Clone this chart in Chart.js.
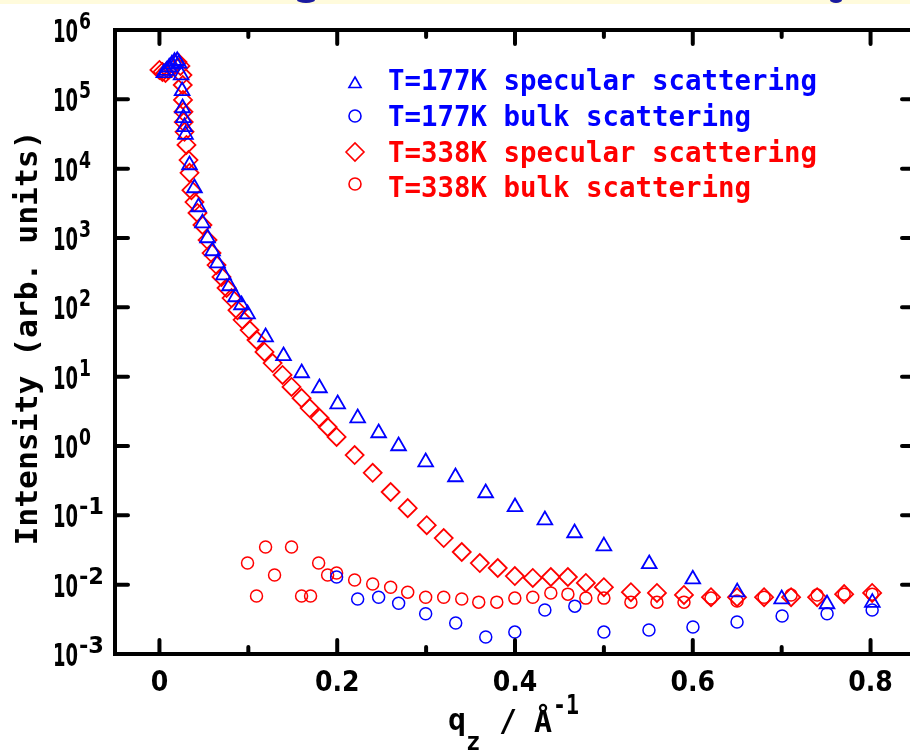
<!DOCTYPE html>
<html>
<head>
<meta charset="utf-8">
<script src="https://cdn.jsdelivr.net/npm/chart.js@4.4.1/dist/chart.umd.min.js"></script>
<style>
  html, body { margin: 0; padding: 0; background: #fff; overflow: hidden; width: 910px; height: 754px; }
  canvas { display: block; }
</style>
</head>
<body>
<canvas id="c" width="928" height="754" style="width:928px;height:754px"></canvas>
<script>
// ---- data ----
const LABELS = [
  'T=177K specular scattering',
  'T=177K bulk scattering',
  'T=338K specular scattering',
  'T=338K bulk scattering'
];
const COLORS = ['#0000ff', '#0000ff', '#ff0000', '#ff0000'];

const Q_SPEC_177 = [0.005,0.008,0.011,0.014,0.017,0.020,0.022,0.0244,0.0255,0.026,0.027,0.0282,0.0293,0.0338,0.0394,0.0439,0.0484,0.0541,0.0597,0.0653,0.0721,0.0788,0.0856,0.0923,0.0991,0.1194,0.1396,0.160,0.180,0.2005,0.223,0.2466,0.269,0.2995,0.333,0.367,0.400,0.4336,0.467,0.500,0.551,0.600,0.650,0.700,0.751,0.802];
const I_SPEC_177 = [2.4e5,2.6e5,2.9e5,3.2e5,3.5e5,3.6e5,3.3e5,2.24e5,1.32e5,7.5e4,5.4e4,4.0e4,3.1e4,1.13e4,5.26e3,2.8e3,1.64e3,1.0e3,649,435,292,203,141,108,80,37.3,19.9,11.3,6.86,4.03,2.53,1.54,1.0,0.587,0.357,0.21,0.132,0.0855,0.0556,0.036,0.0199,0.012,0.0078,0.0062,0.00526,0.0055];

const Q_BULK_177 = [0.1993,0.2230,0.2466,0.2691,0.2995,0.3333,0.3671,0.3998,0.4336,0.4673,0.5000,0.5507,0.6002,0.6498,0.7005,0.7511,0.8018];
const I_BULK_177 = [0.0129,0.0062,0.0066,0.0054,0.0038,0.0028,0.00176,0.00207,0.0043,0.0049,0.00207,0.00222,0.00245,0.00289,0.00353,0.0038,0.0043];

const Q_SPEC_338 = [0.000,0.0034,0.0068,0.0101,0.0135,0.0169,0.0203,0.0236,0.0259,0.0262,0.0265,0.0270,0.0273,0.0282,0.0304,0.0327,0.0338,0.0360,0.0394,0.0428,0.0484,0.0541,0.0586,0.0642,0.0698,0.0755,0.0811,0.0878,0.0935,0.1014,0.1092,0.1182,0.1273,0.1385,0.1486,0.1599,0.1689,0.1802,0.1892,0.1993,0.2196,0.2399,0.2601,0.2793,0.3007,0.3198,0.3401,0.3604,0.3806,0.3998,0.4200,0.4403,0.4595,0.4797,0.5000,0.5304,0.5597,0.5901,0.6205,0.6498,0.6802,0.7106,0.7399,0.7703,0.8018];
const I_SPEC_338 = [2.65e5,2.48e5,2.40e5,2.65e5,2.83e5,3.24e5,3.46e5,3.03e5,2.24e5,1.61e5,9.8e4,6.6e4,4.7e4,3.4e4,2.2e4,1.33e4,8.7e3,4.9e3,3.3e3,2.3e3,1.54e3,935,607,407,274,190,136,91,66,47,33.8,22.7,15.7,10.6,7.1,4.9,3.53,2.53,1.88,1.35,0.74,0.41,0.217,0.127,0.072,0.047,0.0296,0.0205,0.0174,0.0133,0.0125,0.0129,0.0129,0.0106,0.0092,0.0078,0.0076,0.0071,0.0066,0.0066,0.0066,0.0066,0.0066,0.0073,0.0076];

const Q_BULK_338 = [0.0991,0.1092,0.1194,0.1295,0.1486,0.1599,0.1700,0.1791,0.1892,0.1993,0.2196,0.2399,0.2601,0.2793,0.2995,0.3198,0.3401,0.3592,0.3795,0.3998,0.4200,0.4403,0.4595,0.4797,0.5000,0.5304,0.5597,0.5901,0.6205,0.6498,0.6802,0.7106,0.7399,0.7703,0.8018];
const I_BULK_338 = [0.0205,0.00686,0.0349,0.0138,0.0349,0.00686,0.00686,0.0205,0.0138,0.0147,0.0117,0.0102,0.0092,0.0078,0.0066,0.0066,0.0062,0.0056,0.0056,0.0064,0.0066,0.0076,0.0073,0.0064,0.0064,0.0056,0.0056,0.0056,0.0064,0.0058,0.0066,0.0071,0.0071,0.0073,0.0073];

const X_MAJOR_TICKS = [0, 0.2, 0.4, 0.6, 0.8];
const X_MINOR_TICKS = [0.1, 0.3, 0.5, 0.7];
const Y_TICK_EXPONENTS = [6, 5, 4, 3, 2, 1, 0, -1, -2, -3];
const X_MIN = -0.05, X_MAX = 0.85;
const Y_MIN = 1e-3, Y_MAX = 1e6;

function pts(qs, is) { return qs.map((q, i) => ({ x: q, y: is[i] })); }

const SERIES = [
  { data: pts(Q_SPEC_177, I_SPEC_177), style: 'triangle', r: 8.5, bw: 1.8 },
  { data: pts(Q_BULK_177, I_BULK_177), style: 'circle',   r: 6,   bw: 1.5 },
  { data: pts(Q_SPEC_338, I_SPEC_338), style: 'rectRot',  r: 9,   bw: 1.8 },
  { data: pts(Q_BULK_338, I_BULK_338), style: 'circle',   r: 6,   bw: 1.5 }
];

const TICK_FONT = '"Liberation Sans Narrow", "DejaVu Sans Condensed", sans-serif';
const MONO_FONT = '"DejaVu Sans Mono", "Liberation Mono", monospace';

function fitText(ctx, text, x, y, targetW, align) {
  const w = ctx.measureText(text).width;
  const s = targetW ? targetW / w : 1;
  ctx.save();
  ctx.translate(x, y);
  ctx.scale(s, 1);
  ctx.textAlign = align || 'left';
  ctx.fillText(text, 0, 0);
  ctx.restore();
  return w * s;
}

function legendSymbol(ctx, style, x, y, r) {
  ctx.beginPath();
  if (style === 'triangle') {
    ctx.moveTo(x, y - r);
    ctx.lineTo(x + r * Math.sin(2 * Math.PI / 3), y + r / 2);
    ctx.lineTo(x - r * Math.sin(2 * Math.PI / 3), y + r / 2);
    ctx.closePath();
  } else if (style === 'rectRot') {
    ctx.moveTo(x - r, y); ctx.lineTo(x, y - r); ctx.lineTo(x + r, y); ctx.lineTo(x, y + r);
    ctx.closePath();
  } else {
    ctx.arc(x, y, r, 0, Math.PI * 2);
  }
  ctx.stroke();
}

const decor = {
  id: 'decor',
  beforeDraw(chart) {
    const ctx = chart.ctx;
    ctx.save();
    ctx.fillStyle = '#ffffff';
    ctx.fillRect(0, 0, chart.width, chart.height);
    ctx.fillStyle = '#fffbdc';
    ctx.fillRect(0, 0, chart.width, 4);
    ctx.fillStyle = '#1a1aa0';
    ctx.beginPath(); ctx.ellipse(306, 0, 9, 3, 0, 0, Math.PI); ctx.fill();
    ctx.beginPath(); ctx.ellipse(836, 0, 6, 3, 0, 0, Math.PI); ctx.fill();
    ctx.restore();
  },
  afterDraw(chart) {
    const ctx = chart.ctx;
    const xs = chart.scales.x, ys = chart.scales.y;
    const a = chart.chartArea;
    ctx.save();
    ctx.strokeStyle = '#000';
    ctx.fillStyle = '#000';
    ctx.lineWidth = 4;
    // frame
    ctx.lineCap = 'butt';
    ctx.beginPath();
    ctx.moveTo(a.left, a.top); ctx.lineTo(a.right, a.top); ctx.lineTo(a.right, a.bottom);
    ctx.lineTo(a.left, a.bottom); ctx.closePath();
    ctx.stroke();
    ctx.lineCap = 'round';
    // inward ticks
    ctx.beginPath();
    X_MAJOR_TICKS.forEach(v => {
      const px = xs.getPixelForValue(v);
      ctx.moveTo(px, a.bottom); ctx.lineTo(px, a.bottom - 14);
      ctx.moveTo(px, a.top); ctx.lineTo(px, a.top + 14);
    });
    X_MINOR_TICKS.forEach(v => {
      const px = xs.getPixelForValue(v);
      ctx.moveTo(px, a.bottom); ctx.lineTo(px, a.bottom - 7);
      ctx.moveTo(px, a.top); ctx.lineTo(px, a.top + 7);
    });
    Y_TICK_EXPONENTS.forEach(e => {
      const py = ys.getPixelForValue(Math.pow(10, e));
      ctx.moveTo(a.left, py); ctx.lineTo(a.left + 13, py);
      ctx.moveTo(a.right, py); ctx.lineTo(a.right - 13, py);
    });
    ctx.stroke();

    // y tick labels 10^n
    ctx.textBaseline = 'alphabetic';
    Y_TICK_EXPONENTS.forEach(e => {
      const py = ys.getPixelForValue(Math.pow(10, e));
      ctx.font = 'bold 32px ' + TICK_FONT;
      fitText(ctx, '10', 78, py + 12, 25, 'right');
      ctx.font = 'bold 23px ' + TICK_FONT;
      const ex = e < 0 ? '-' + Math.abs(e) : String(e);
      fitText(ctx, ex, 79, py - 1, e < 0 ? 25 : 12, 'left');
    });

    // y axis title
    ctx.save();
    ctx.translate(29, (a.top + a.bottom) / 2 - 4);
    ctx.rotate(-Math.PI / 2);
    ctx.font = 'bold 30px ' + MONO_FONT;
    ctx.textBaseline = 'middle';
    fitText(ctx, 'Intensity (arb. units)', 0, 0, 415, 'center');
    ctx.restore();

    // x axis title: q_z / Å^-1
    ctx.font = 'bold 30px ' + MONO_FONT;
    ctx.textAlign = 'left';
    ctx.textBaseline = 'alphabetic';
    ctx.fillText('q', 448, 730);
    ctx.font = 'bold 24px ' + MONO_FONT;
    ctx.fillText('z', 466, 750);
    ctx.font = 'bold 30px ' + MONO_FONT;
    ctx.fillText('/', 499, 731);
    ctx.fillText('Å', 534, 732);
    ctx.font = 'bold 26px ' + MONO_FONT;
    fitText(ctx, '-1', 553, 714, 26, 'left');

    // legend
    const rows = [
      { y: 90,  sy: 84,  r: 7 },
      { y: 126, sy: 116, r: 6 },
      { y: 162, sy: 152, r: 9 },
      { y: 197, sy: 184, r: 6 }
    ];
    ctx.font = 'bold 28px ' + MONO_FONT;
    LABELS.forEach((lab, i) => {
      ctx.fillStyle = COLORS[i];
      ctx.strokeStyle = COLORS[i];
      ctx.lineWidth = 1.6;
      legendSymbol(ctx, SERIES[i].style, 355, rows[i].sy, rows[i].r);
      fitText(ctx, lab, 388, rows[i].y, lab.length * 16.5, 'left');
    });
    ctx.restore();
  }
};

const datasets = SERIES.map((s, i) => ({
  label: LABELS[i],
  data: s.data,
  showLine: false,
  pointStyle: s.style,
  pointRadius: s.r,
  pointHoverRadius: s.r,
  pointBorderWidth: s.bw,
  pointBorderColor: COLORS[i],
  pointBackgroundColor: 'rgba(0,0,0,0)',
  borderColor: COLORS[i],
  backgroundColor: 'rgba(0,0,0,0)',
  order: i
}));

new Chart(document.getElementById('c'), {
  type: 'scatter',
  data: { datasets },
  options: {
    responsive: false,
    animation: false,
    devicePixelRatio: 1,
    layout: { padding: { top: 30, right: 13, left: 0, bottom: 0 } },
    plugins: { legend: { display: false }, tooltip: { enabled: false } },
    scales: {
      x: {
        type: 'linear',
        min: X_MIN, max: X_MAX,
        grid: { display: false, drawTicks: false },
        border: { display: false },
        afterBuildTicks: (sc) => { sc.ticks = X_MAJOR_TICKS.map(v => ({ value: v })); },
        afterFit: (sc) => { sc.height = 100; sc.paddingLeft = 0; sc.paddingRight = 0; },
        ticks: {
          color: '#000',
          padding: 13,
          maxRotation: 0,
          autoSkip: false,
          font: { family: '"DejaVu Sans Condensed", sans-serif', weight: 'bold', size: 28 },
          callback: (v) => v === 0 ? '0' : Number(v).toFixed(1)
        }
      },
      y: {
        type: 'logarithmic',
        min: Y_MIN, max: Y_MAX,
        grid: { display: false, drawTicks: false },
        border: { display: false },
        ticks: { display: false },
        afterFit: (sc) => { sc.width = 115; sc.paddingTop = 0; sc.paddingBottom = 0; }
      }
    }
  },
  plugins: [decor]
});
</script>
</body>
</html>
